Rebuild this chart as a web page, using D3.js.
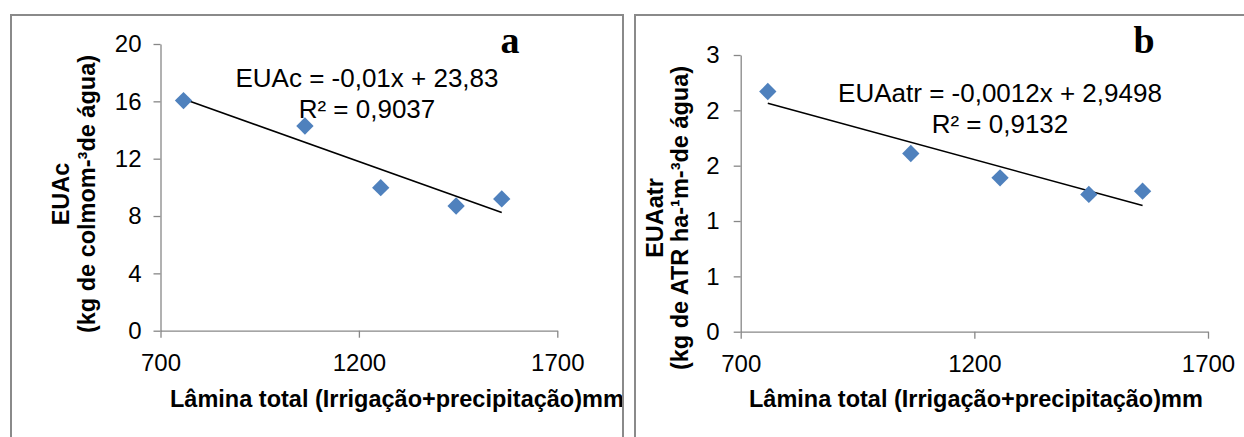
<!DOCTYPE html>
<html>
<head>
<meta charset="utf-8">
<script src="https://cdn.jsdelivr.net/npm/d3@7"></script>
<style>
  body { margin: 0; background: #fff; }
  text { font-family: "Liberation Sans", Arial, sans-serif; fill: #000; }
</style>
</head>
<body>
<svg id="chart" width="1244" height="437"></svg>
<script>
// data
var lamina = [758, 1064, 1255, 1445, 1560];
var euac = [16.05, 14.28, 9.98, 8.70, 9.19];
var euaatr = [2.17, 1.61, 1.39, 1.24, 1.27];

var xTicks = [700, 1200, 1700];
var yTicksA = [0, 4, 8, 12, 16, 20];
var yTicksB = [0, 0.5, 1, 1.5, 2, 2.5];
var yLabelsB = ["0", "1", "1", "2", "2", "3"];

var eqA = ["EUAc = -0,01x + 23,83", "R² = 0,9037"];
var eqB = ["EUAatr = -0,0012x + 2,9498", "R² = 0,9132"];
var titleA = ["EUAc", "(kg de colmom-³de água)"];
var titleB = ["EUAatr", "(kg de ATR ha-¹m-³de água)"];
var xTitle = "Lâmina total (Irrigação+precipitação)mm";

var svg = d3.select("#chart");
var axisColor = "#878787";

function linFit(xs, ys) {
    var mx = d3.mean(xs), my = d3.mean(ys);
    var sxy = 0, sxx = 0;
    xs.forEach(function (x, i) {
        sxy += (x - mx) * (ys[i] - my);
        sxx += (x - mx) * (x - mx);
    });
    var b = sxy / sxx;
    return { b: b, a: my - b * mx };
}

function makePanel(p) {
    var g = svg.append("g");

    // clip to the frame, text running past it gets cut like in the figure
    var clipId = "clip-" + p.letter;
    svg.append("clipPath").attr("id", clipId)
        .append("rect")
        .attr("x", p.frame[0]).attr("y", p.frame[1])
        .attr("width", p.frame[2] - p.frame[0]).attr("height", 500);

    var inner = g.append("g").attr("clip-path", "url(#" + clipId + ")");

    var xScale = d3.scaleLinear().domain([700, 1700]).range([p.x0, p.x1]);
    var yScale = d3.scaleLinear().domain(p.yDomain).range([p.y0, p.y1]);

    var yAxis = d3.axisLeft(yScale)
        .tickValues(p.yTicks)
        .tickSizeInner(7)
        .tickSizeOuter(0)
        .tickPadding(p.yPad)
        .tickFormat(function (d, i) { return p.yLabels ? p.yLabels[i] : d; });

    var xAxis = d3.axisBottom(xScale)
        .tickValues(xTicks)
        .tickSizeInner(7)
        .tickSizeOuter(0)
        .tickPadding(16)
        .tickFormat(d3.format("d"));

    var ya = inner.append("g")
        .attr("transform", "translate(" + p.x0 + ",0)")
        .call(yAxis);
    var xa = inner.append("g")
        .attr("transform", "translate(0," + p.y0 + ")")
        .call(xAxis);

    [ya, xa].forEach(function (a) {
        a.select(".domain").attr("stroke", axisColor).attr("stroke-width", 1.3);
        a.selectAll(".tick line").attr("stroke", axisColor).attr("stroke-width", 1.3);
        a.selectAll(".tick text")
            .style("font-family", "'Liberation Sans', Arial, sans-serif")
            .style("font-size", "24px")
            .attr("fill", "#000");
    });

    // trend line over the data range
    var fit = linFit(lamina, p.values);
    var ext = d3.extent(lamina);
    var line = d3.line()
        .x(function (d) { return xScale(d); })
        .y(function (d) { return yScale(fit.a + fit.b * d); });
    inner.append("path")
        .datum(ext)
        .attr("d", line)
        .attr("fill", "none")
        .attr("stroke", "#000")
        .attr("stroke-width", 1.6);

    // diamond markers
    var diamond = d3.symbol().type(d3.symbolSquare).size(150);
    inner.selectAll(".pt")
        .data(p.values)
        .enter().append("path")
        .attr("class", "pt")
        .attr("d", diamond)
        .attr("transform", function (d, i) {
            return "translate(" + xScale(lamina[i]) + "," + yScale(d) + ") rotate(45)";
        })
        .attr("fill", "#4F81BD");

    // equation
    inner.selectAll(".eq")
        .data(p.eq)
        .enter().append("text")
        .attr("class", "eq")
        .attr("x", p.eqX)
        .attr("y", function (d, i) { return p.eqY + i * 31; })
        .attr("text-anchor", "middle")
        .style("font-size", "26px")
        .text(function (d) { return d; });

    // panel letter
    inner.append("text")
        .attr("x", p.letterX)
        .attr("y", 53)
        .attr("text-anchor", "middle")
        .style("font-family", "'Liberation Serif', 'Times New Roman', serif")
        .style("font-weight", "bold")
        .style("font-size", "38px")
        .text(p.letter);

    // y title, two lines
    inner.selectAll(".ytitle")
        .data(p.yTitle)
        .enter().append("text")
        .attr("class", "ytitle")
        .attr("transform", function (d, i) {
            return "translate(" + p.yTitleX[i] + "," + p.yTitleY + ") rotate(-90)";
        })
        .attr("text-anchor", "middle")
        .style("font-weight", "bold")
        .style("font-size", "23.5px")
        .text(function (d) { return d; });

    // x title
    inner.append("text")
        .attr("x", p.xTitleX)
        .attr("y", 407)
        .style("font-weight", "bold")
        .style("font-size", "23.5px")
        .text(xTitle);

    // frame
    g.append("path")
        .attr("d", "M" + p.frame[0] + ",460V" + p.frame[1] + "H" + p.frame[2] + "V460")
        .attr("fill", "none")
        .attr("stroke", "#8a8a8a")
        .attr("stroke-width", 2);
}

makePanel({
    letter: "a",
    frame: [11, 15, 623],
    x0: 160.5, x1: 557.3, y0: 330.7, y1: 44,
    yDomain: [0, 20], yTicks: yTicksA, yLabels: null, yPad: 12,
    values: euac,
    eq: eqA, eqX: 367, eqY: 87,
    letterX: 510,
    yTitle: titleA, yTitleX: [69, 95], yTitleY: 194,
    xTitleX: 170
});

makePanel({
    letter: "b",
    frame: [635, 15, 1260],
    x0: 740.7, x1: 1208, y0: 331.7, y1: 55,
    yDomain: [0, 2.5], yTicks: yTicksB, yLabels: yLabelsB, yPad: 14,
    values: euaatr,
    eq: eqB, eqX: 1000, eqY: 102,
    letterX: 1144,
    yTitle: titleB, yTitleX: [663, 688], yTitleY: 218,
    xTitleX: 749
});
</script>
</body>
</html>
